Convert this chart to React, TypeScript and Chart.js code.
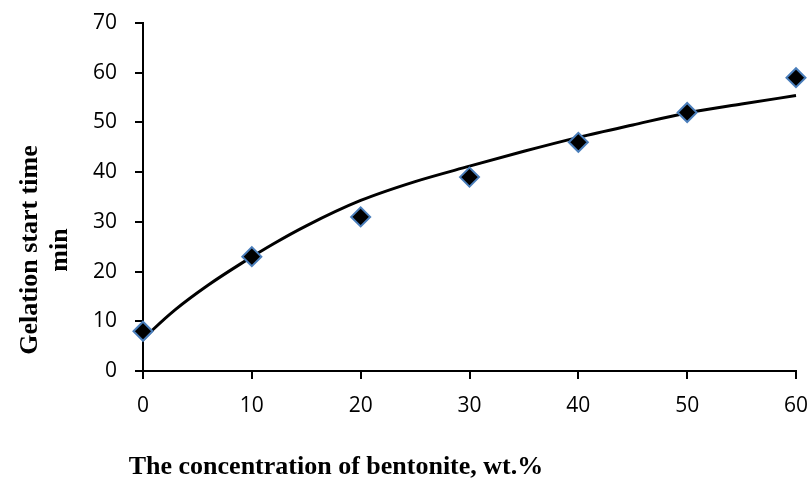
import React, { useEffect, useRef } from "react";
import { Chart, registerables } from "chart.js";

Chart.register(...registerables);

// Measured data (bentonite concentration, wt.% vs gelation start time, min)
const concentration = [0, 10, 20, 30, 40, 50, 60];
const gelationTime = [8, 23, 31, 39, 46, 52, 59];

// Trend line
const trendX = [0, 1, 3, 6, 9, 12, 15, 20, 25, 30, 35, 40, 45, 50, 55, 60];
const trendY = [6.3, 8.5, 12.4, 17.3, 21.6, 25.6, 29.2, 34.3, 38.1, 41.2, 44.2, 47.0, 49.5, 51.9, 53.7, 55.4];

const xTicks = [0, 10, 20, 30, 40, 50, 60];
const yTicks = [0, 10, 20, 30, 40, 50, 60, 70];

const xTitle = "The concentration of bentonite, wt.%";
const yTitleLines = ["Gelation start time", "min"];

const titlePlugin = {
  id: "customTitles",
  afterDraw(chart: any) {
    const ctx = chart.ctx;
    ctx.save();
    ctx.fillStyle = "#000";
    ctx.font = "bold 26px 'Liberation Serif', 'Times New Roman', serif";
    ctx.textAlign = "center";
    ctx.textBaseline = "alphabetic";
    ctx.fillText(xTitle, 336, 474);
    ctx.translate(0, 250);
    ctx.rotate(-Math.PI / 2);
    ctx.fillText(yTitleLines[0], 0, 37);
    ctx.fillText(yTitleLines[1], 0, 67);
    ctx.restore();
  },
};

export default function App() {
  const ref = useRef<HTMLCanvasElement | null>(null);

  useEffect(() => {
    document.body.style.margin = "0";
    const canvas = ref.current;
    if (!canvas) return;
    const chart = new Chart(canvas, {
      type: "scatter",
      data: {
        datasets: [
          {
            label: "data",
            data: concentration.map((x, i) => ({ x, y: gelationTime[i] })),
            pointStyle: "rectRot",
            pointRadius: 9.5,
            pointBackgroundColor: "#000000",
            pointBorderColor: "#4A7EBB",
            pointBorderWidth: 2,
            showLine: false,
            clip: false,
            order: 0,
          } as any,
          {
            label: "trend",
            data: trendX.map((x, i) => ({ x, y: trendY[i] })),
            showLine: true,
            borderColor: "#000000",
            borderWidth: 3,
            pointRadius: 0,
            cubicInterpolationMode: "monotone",
            fill: false,
            clip: false,
            order: 1,
          } as any,
        ],
      },
      options: {
        animation: false,
        responsive: false,
        devicePixelRatio: 1,
        layout: { padding: { left: 83, right: 14, top: 23, bottom: 0 } },
        plugins: {
          legend: { display: false },
          tooltip: { enabled: false },
          title: { display: false },
        },
        scales: {
          x: {
            type: "linear",
            min: 0,
            max: 60,
            afterBuildTicks: (s: any) => {
              s.ticks = xTicks.map((v) => ({ value: v }));
            },
            afterFit: (s: any) => {
              s.height = 107;
              s.paddingLeft = 0;
              s.paddingRight = 0;
            },
            ticks: {
              color: "#000",
              font: { family: "'Open Sans'", size: 21 },
              padding: 14,
              maxRotation: 0,
            },
            grid: {
              display: true,
              drawOnChartArea: false,
              drawTicks: true,
              tickLength: 8,
              color: "#000",
              lineWidth: 2,
            },
            border: { display: true, color: "#000", width: 2 },
          },
          y: {
            type: "linear",
            min: 0,
            max: 70,
            afterBuildTicks: (s: any) => {
              s.ticks = yTicks.map((v) => ({ value: v }));
            },
            afterFit: (s: any) => {
              s.width = 60;
              s.paddingTop = 0;
              s.paddingBottom = 0;
            },
            ticks: {
              color: "#000",
              font: { family: "'Open Sans'", size: 21 },
              padding: 18,
            },
            grid: {
              display: true,
              drawOnChartArea: false,
              drawTicks: true,
              tickLength: 8,
              color: "#000",
              lineWidth: 2,
            },
            border: { display: true, color: "#000", width: 2 },
          },
        },
      },
      plugins: [titlePlugin],
    });
    return () => chart.destroy();
  }, []);

  return (
    <div style={{ width: 810, height: 478, background: "#fff" }}>
      <canvas ref={ref} width={810} height={478} style={{ display: "block" }} />
    </div>
  );
}
